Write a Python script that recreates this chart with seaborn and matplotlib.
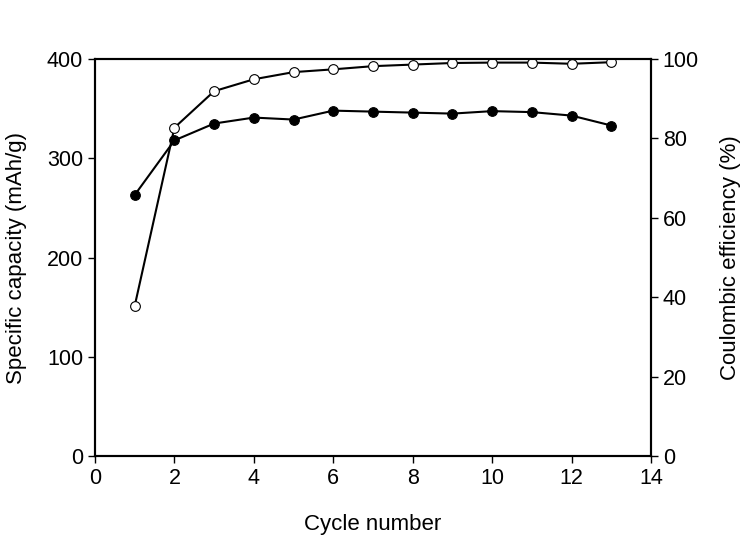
import pandas as pd
import seaborn as sns
import matplotlib.pyplot as plt

cycles = [1, 2, 3, 4, 5, 6, 7, 8, 9, 10, 11, 12, 13]
capacity = [263, 318, 335, 341, 339, 348, 347, 346, 345, 347.5, 346.5, 343, 333]
efficiency = [37.8, 82.7, 91.9, 94.9, 96.7, 97.4, 98.2, 98.6, 99.0, 99.1, 99.1, 98.8, 99.2]

df = pd.DataFrame({'cycle': cycles, 'capacity': capacity, 'efficiency': efficiency})

sns.set_style("ticks")
plt.rcParams['font.family'] = ['Liberation Sans', 'DejaVu Sans']
plt.rcParams['text.color'] = 'black'
plt.rcParams['axes.labelcolor'] = 'black'

fig = plt.figure(figsize=(7.45, 5.39), dpi=100)
ax = fig.add_axes([0.1275, 0.154, 0.7463, 0.7365])
ax2 = ax.twinx()

sns.lineplot(x='cycle', y='capacity', data=df, ax=ax, color='black', linewidth=1.5,
             marker='o', markersize=7, markerfacecolor='black', markeredgecolor='black')
sns.lineplot(x='cycle', y='efficiency', data=df, ax=ax2, color='black', linewidth=1.5,
             marker='o', markersize=7, markerfacecolor='white', markeredgecolor='black',
             markeredgewidth=0.8)

ax.set_xlim(0, 14)
ax.set_ylim(0, 400)
ax2.set_ylim(0, 100)
ax.set_xticks(range(0, 15, 2))
ax.set_yticks(range(0, 401, 100))
ax2.set_yticks(range(0, 101, 20))

ax.set_xlabel("Cycle number", fontsize=16, labelpad=18, color='black')
ax.set_ylabel("Specific capacity (mAh/g)", fontsize=16, labelpad=14, color='black')
ax2.set_ylabel("Coulombic efficiency (%)", fontsize=16, labelpad=15, color='black')

for a in (ax, ax2):
    a.tick_params(labelsize=15.5, direction='out', length=5, width=1, colors='black')
    for s in a.spines.values():
        s.set_linewidth(1.5)
        s.set_color('black')
        s.set_visible(True)

fig.savefig("out.png", dpi=100)
